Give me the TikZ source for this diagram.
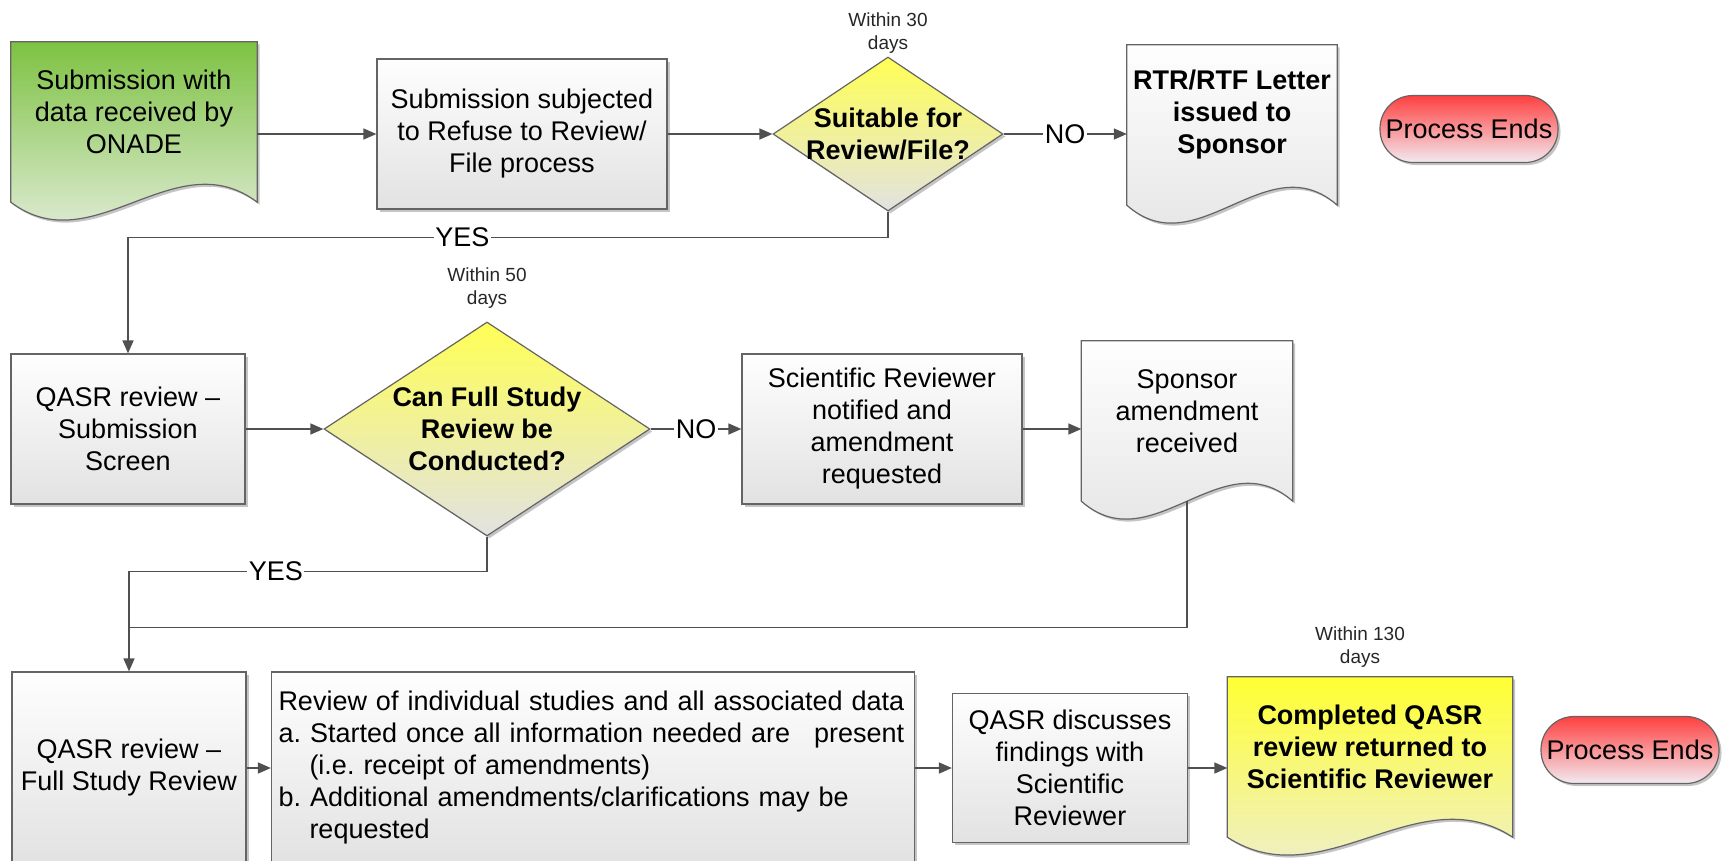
\documentclass[tikz,border=0pt]{standalone}
\usepackage{fontspec}
\setmainfont{Liberation Sans}
\usetikzlibrary{shapes.geometric,positioning,arrows.meta,calc,shadows}

\pgfdeclarelayer{background}
\pgfsetlayers{background,main}

\definecolor{linegray}{RGB}{80,80,80}
\definecolor{edgegray}{RGB}{100,100,100}
\definecolor{boxtop}{RGB}{254,254,254}
\definecolor{boxbot}{RGB}{226,226,226}
\definecolor{startgreen}{RGB}{125,194,66}
\definecolor{startbot}{RGB}{240,242,238}
\definecolor{decyellow}{RGB}{255,255,85}
\definecolor{compyellow}{RGB}{255,255,51}
\definecolor{compbot}{RGB}{236,236,226}
\definecolor{endred}{RGB}{255,64,64}
\definecolor{endpale}{RGB}{242,234,240}

\newcommand\mainsize{\fontsize{27}{32}\selectfont}
\newcommand\docoutline[3]{%
\begin{pgfonlayer}{background}
\draw[docline,top color=#2,bottom color=#3] (#1.north west) -- (#1.north east) -- ([yshift=-20pt]#1.south east)
.. controls ($(#1.south east)!1/3!(#1.south west)+(0,42)$) and ($(#1.south east)!2/3!(#1.south west)+(0,-82)$) .. ([yshift=-20pt]#1.south west) -- cycle;
\end{pgfonlayer}}

\frenchspacing
\begin{document}
\begin{tikzpicture}[
x=1pt,y=1pt,
font=\mainsize,
>={Triangle[length=13pt,width=11pt]},
conn/.style={draw=linegray,line width=1.6pt},
flow/.style={conn,->},
dropshade/.style={drop shadow={shadow xshift=2.5pt,shadow yshift=-2.5pt,fill=black!45,opacity=.5}},
procbox/.style={rectangle,draw=edgegray,line width=1.2pt,top color=boxtop,bottom color=boxbot,dropshade,align=center,inner sep=4pt,minimum height=150pt},
docbox/.style={rectangle,inner sep=2pt,align=center,minimum height=140pt},
docline/.style={draw=edgegray,line width=1.2pt,dropshade},
decision/.style={diamond,draw=edgegray,line width=1.2pt,top color=decyellow,bottom color=boxbot,dropshade,inner sep=0pt},
dectext/.style={font=\mainsize\bfseries,align=center},
endbox/.style={rectangle,rounded corners=33pt,draw=edgegray,line width=1.2pt,top color=endred,bottom color=endpale,dropshade,inner sep=0pt,minimum width=178pt,minimum height=67pt},
within/.style={font=\fontsize{19}{23}\selectfont,text=black!85,align=center,inner sep=1pt},
answer/.style={fill=white,inner sep=1.5pt}
]
\useasboundingbox (0,0) rectangle (1725,-860);

% row 1
\node[docbox,minimum width=246pt] (sub) at (134,-112) {Submission with\\data received by\\ONADE};
\node[procbox,minimum width=290pt] (rrf) at (522,-134) {Submission subjected\\to Refuse to Review/\\File process};
\node[decision,minimum width=230pt,minimum height=154pt,label={[dectext]center:{Suitable for\\Review/File?}}] (dec1) at (888,-134) {};
\node[within,above=2pt of dec1] (w30) {Within 30\\days};
\node[docbox,minimum width=210pt,font=\mainsize\bfseries] (rtr) at (1232,-115) {RTR/RTF Letter\\issued to\\Sponsor};
\node[endbox] (end1) at (1469,-129) {Process Ends};

% row 2
\node[procbox,minimum width=234pt] (qs) at (128,-429) {QASR review –\\Submission\\Screen};
\node[decision,minimum width=326pt,minimum height=214pt,label={[dectext]center:{Can Full Study\\Review be\\Conducted?}}] (dec2) at (487,-429) {};
\node[within,above=12pt of dec2] (w50) {Within 50\\days};
\node[procbox,minimum width=280pt] (sr) at (882,-429) {Scientific Reviewer\\notified and\\amendment\\requested};
\node[docbox,minimum width=211pt] (spon) at (1187,-411) {Sponsor\\amendment\\received};

% row 3
\node[procbox,minimum width=234pt,minimum height=192pt] (fsr) at (129,-768) {QASR review –\\Full Study Review};
\node[procbox,minimum width=643pt,minimum height=192pt,text width=629pt,inner sep=7pt,align=left] (rev) at (593,-768) {Review of individual studies and all associated data\\
a. Started once all information needed are\hspace{24pt}present\\
\hspace*{31pt}(i.e. receipt of amendments)\\
b. Additional amendments/clarifications may be\\
\hspace*{31pt}requested};
\node[procbox,minimum width=235pt,minimum height=149pt] (disc) at (1070,-768) {QASR discusses\\findings with\\Scientific\\Reviewer};
\node[docbox,minimum width=285pt,font=\mainsize\bfseries] (comp) at (1370,-747) {Completed QASR\\review returned to\\Scientific Reviewer};
\node[within,above=8pt of comp,xshift=-10pt] (w130) {Within 130\\days};
\node[endbox] (end2) at (1630,-750) {Process Ends};

\foreach \d/\c/\e in {sub/startgreen/startbot,rtr/boxtop/boxbot,spon/boxtop/boxbot,comp/compyellow/compbot}
{\docoutline{\d}{\c}{\e}}

\draw[flow] (sub.east |- rrf.west) -- (rrf.west);
\draw[flow] (rrf) -- (dec1);
\draw[flow] (dec1) -- node[answer]{NO} (dec1 -| rtr.west);
\draw[flow] (dec1.south) -- ++(0,-26) -| node[answer,pos=.28]{YES} (qs.north);

\draw[flow] (qs) -- (dec2);
\draw[flow] (dec2) -- node[answer]{NO} (sr);
\draw[flow] (sr) -- (sr -| spon.west);
\coordinate (merge) at ($(fsr.north)+(0,44)$);
\draw[conn] ([yshift=-20pt]spon.south) |- (merge);
\draw[flow] (dec2.south) -- ++(0,-35) -| node[answer,pos=.295]{YES} (fsr.north);

\draw[flow] (fsr) -- (rev);
\draw[flow] (rev) -- (disc);
\draw[flow] (disc) -- (disc -| comp.west);

\end{tikzpicture}
\end{document}
